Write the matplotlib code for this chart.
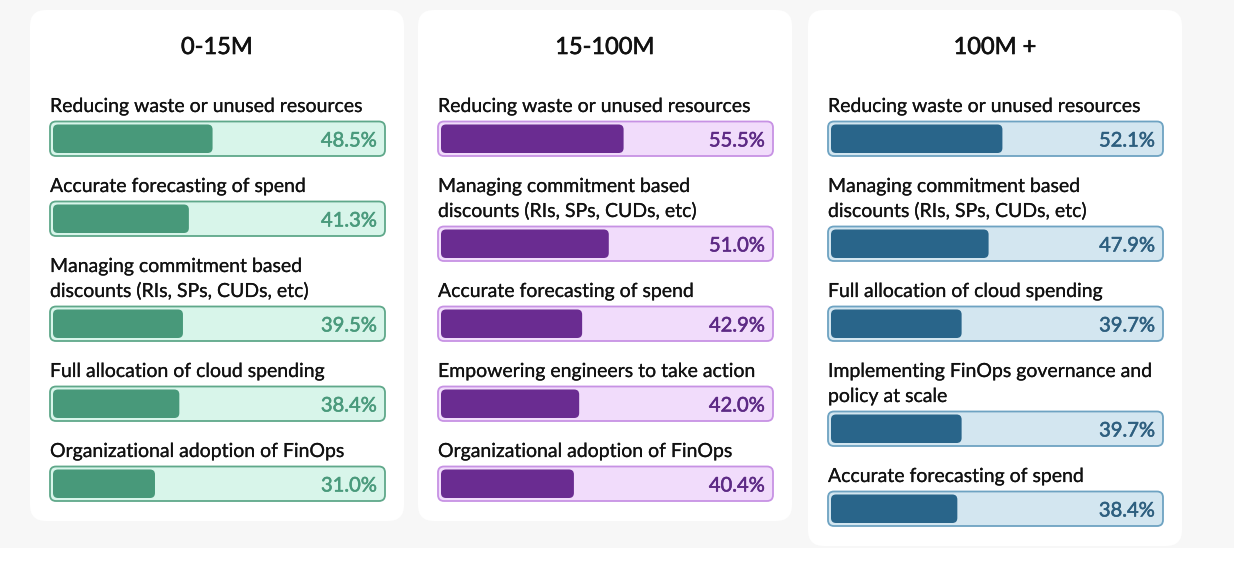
import matplotlib.pyplot as plt
import matplotlib.patheffects as pe
from matplotlib.patches import FancyBboxPatch, Rectangle

plt.rcParams['font.family'] = ['Lato', 'DejaVu Sans']

segments = ["0-15M", "15-100M", "100M +"]

labels_small = ["Reducing waste or unused resources",
                "Accurate forecasting of spend",
                "Managing commitment based\ndiscounts (RIs, SPs, CUDs, etc)",
                "Full allocation of cloud spending",
                "Organizational adoption of FinOps"]
values_small = [48.5, 41.3, 39.5, 38.4, 31.0]

labels_mid = ["Reducing waste or unused resources",
              "Managing commitment based\ndiscounts (RIs, SPs, CUDs, etc)",
              "Accurate forecasting of spend",
              "Empowering engineers to take action",
              "Organizational adoption of FinOps"]
values_mid = [55.5, 51.0, 42.9, 42.0, 40.4]

labels_large = ["Reducing waste or unused resources",
                "Managing commitment based\ndiscounts (RIs, SPs, CUDs, etc)",
                "Full allocation of cloud spending",
                "Implementing FinOps governance and\npolicy at scale",
                "Accurate forecasting of spend"]
values_large = [52.1, 47.9, 39.7, 39.7, 38.4]

# fill, track, border, text
palettes = [("#48997a", "#d8f5ea", "#5fa88a", "#4a9a7c"),
            ("#6a2c91", "#f1dcfb", "#c792e4", "#5d2a85"),
            ("#29658a", "#d3e6f0", "#6ea3c2", "#2e5f7f")]

card_left = [30, 418, 808]
card_w = 374
track_w = 335
track_h = 34.5
line_h = 25


def heavier(color, w):
    return [pe.withStroke(linewidth=w, foreground=color)]


def draw_panel(ax, x0, title, labels, values, pal):
    fill_c, track_c, border_c, text_c = pal
    tx = x0 + 20
    y = 112
    rows = []
    for lab, val in zip(labels, values):
        lines = lab.split("\n")
        for i, ln in enumerate(lines):
            rows.append((ln, y + i * line_h))
        top = y + (len(lines) - 1) * line_h + 9.5
        ax.add_patch(FancyBboxPatch((tx, top), track_w, track_h,
                                    boxstyle="round,pad=0,rounding_size=6",
                                    fc=track_c, ec=border_c, lw=1.3, zorder=2))
        fw = val / 100 * (track_w - 6)
        ax.add_patch(FancyBboxPatch((tx + 3, top + 3), fw, track_h - 6,
                                    boxstyle="round,pad=0,rounding_size=5",
                                    fc=fill_c, ec="none", zorder=3))
        ax.text(tx + track_w - 8, top + 25, "{:.1f}%".format(val),
                ha="right", va="baseline", fontsize=14.5, color=text_c,
                zorder=4, path_effects=heavier(text_c, 0.4))
        y = top + track_h + 36
    bottom = y - 36 + 20
    ax.add_patch(FancyBboxPatch((x0, 10), card_w, bottom - 10,
                                boxstyle="round,pad=0,rounding_size=16",
                                fc="white", ec="none", zorder=1))
    for ln, yy in rows:
        ax.text(tx, yy, ln, ha="left", va="baseline", fontsize=14,
                color="#111111", zorder=4, path_effects=heavier("#111111", 0.15))
    ax.text(x0 + card_w / 2, 54, title, ha="center", va="baseline",
            fontsize=17, color="#111111", zorder=4,
            path_effects=heavier("#111111", 0.45))


fig = plt.figure(figsize=(12.34, 5.68), dpi=100)
ax = fig.add_axes([0, 0, 1, 1])
ax.set_xlim(0, 1234)
ax.set_ylim(568, 0)
ax.axis('off')
ax.add_patch(Rectangle((0, 0), 1234, 548, fc="#f7f7f7", ec="none", zorder=0))

all_labels = [labels_small, labels_mid, labels_large]
all_values = [values_small, values_mid, values_large]
for x0, title, labs, vals, pal in zip(card_left, segments, all_labels, all_values, palettes):
    draw_panel(ax, x0, title, labs, vals, pal)

plt.savefig("out.png", dpi=100)
plt.close()
